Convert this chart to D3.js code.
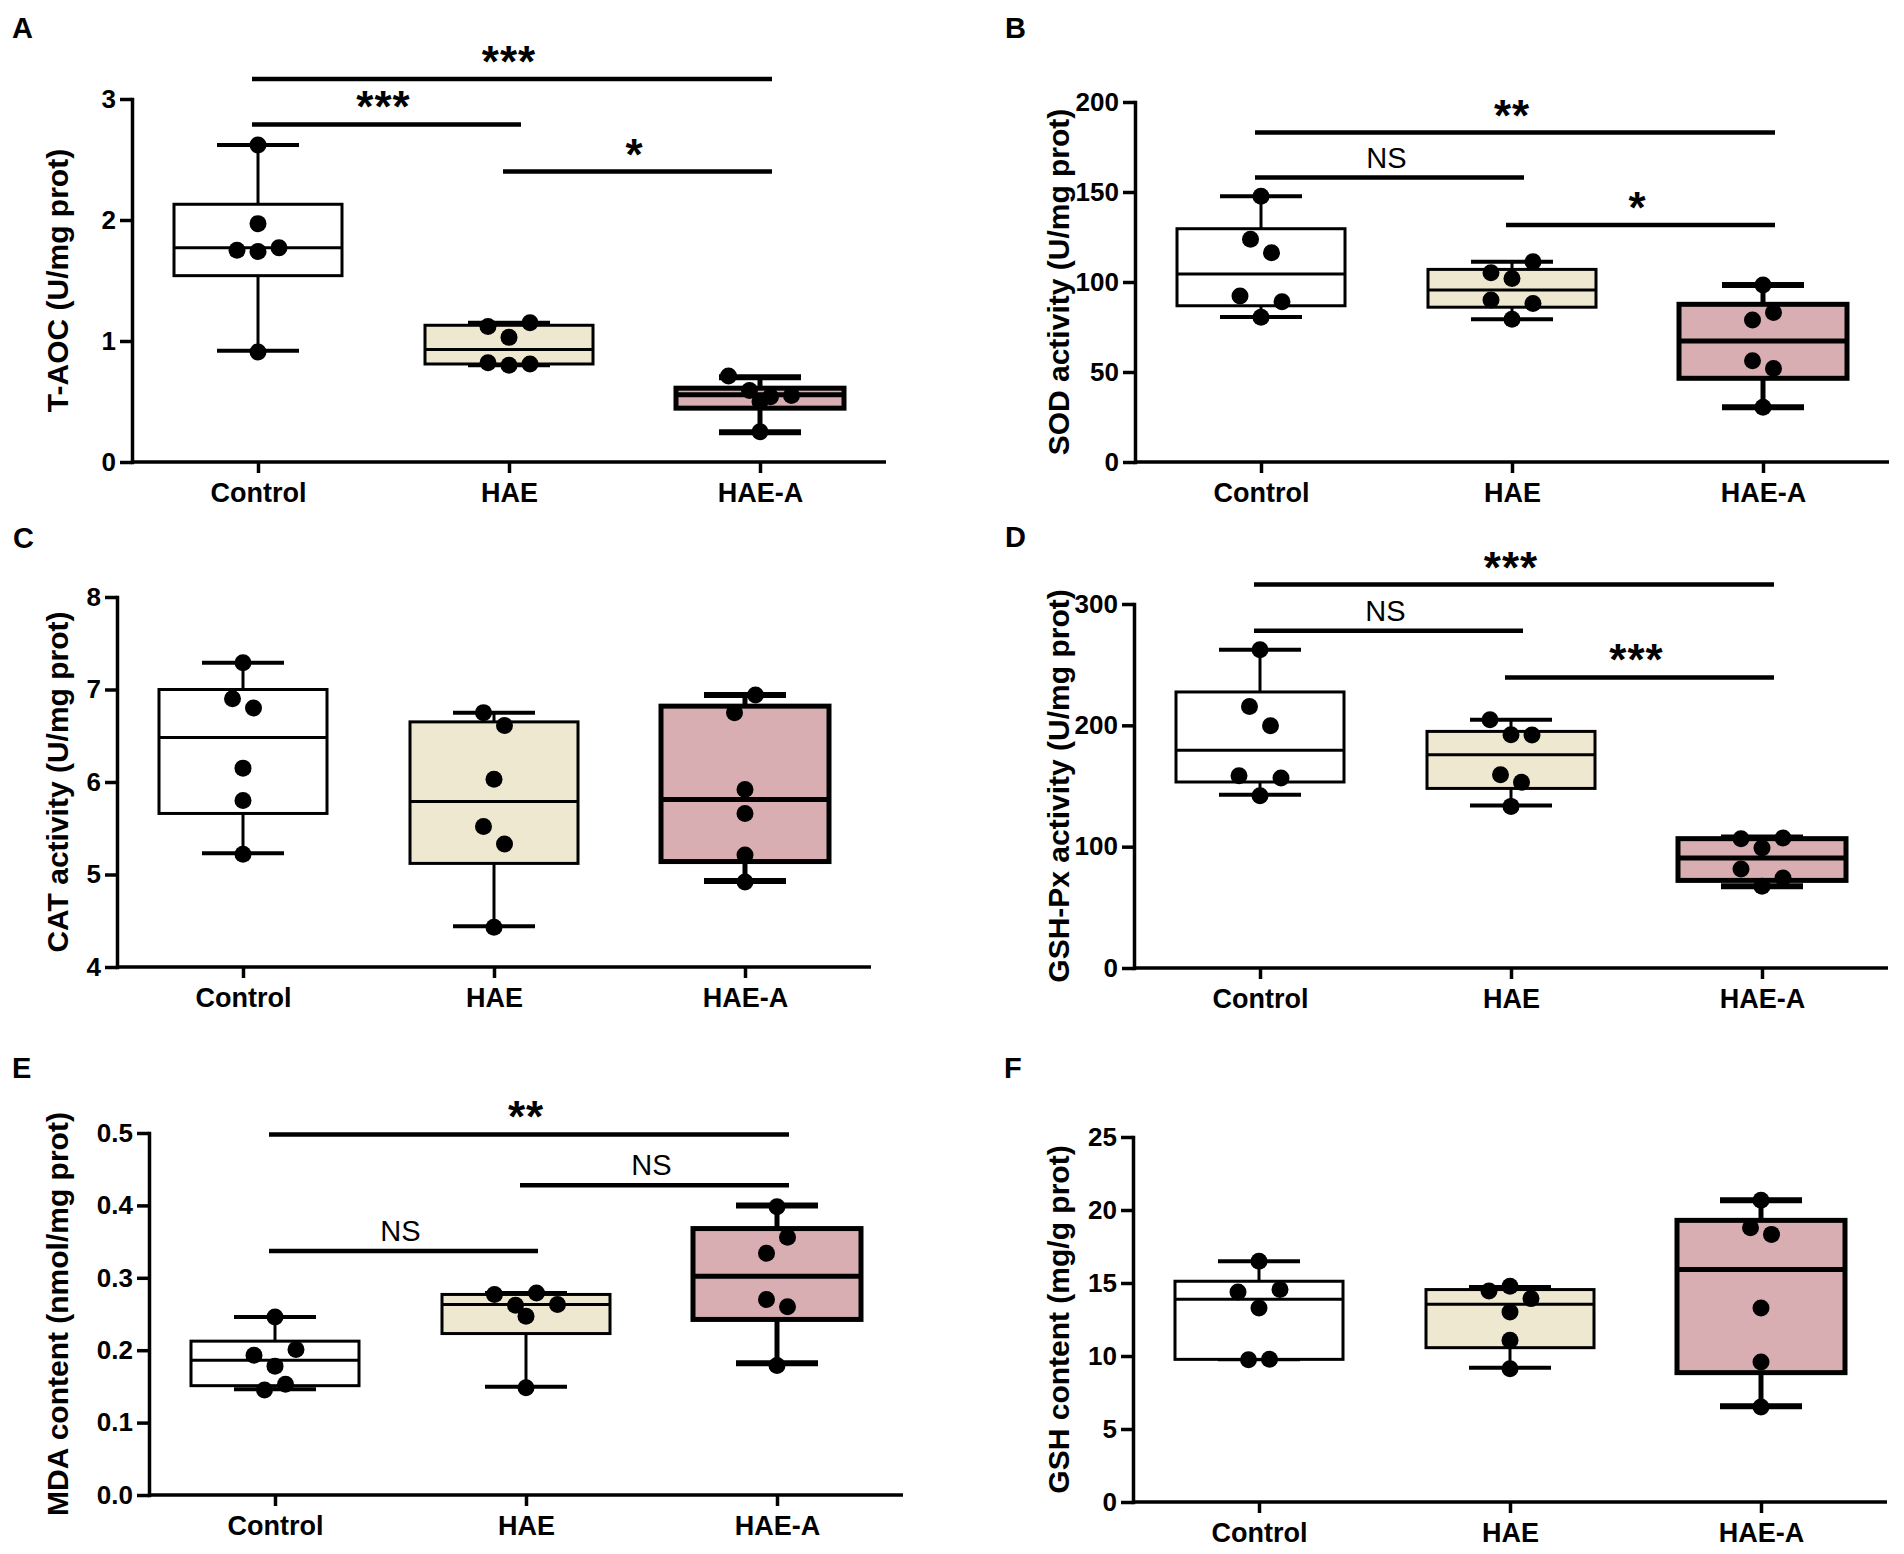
<!DOCTYPE html>
<html>
<head>
<meta charset="utf-8">
<script src="https://cdn.jsdelivr.net/npm/d3@7"></script>
<style>
body { margin: 0; background: #fff; }
svg text { font-family: "Liberation Sans", Arial, sans-serif; font-weight: bold; fill: #000; }
</style>
</head>
<body>
<svg id="fig" width="1904" height="1554"></svg>
<script>
var groups = ["Control", "HAE", "HAE-A"];
var fills = ["#ffffff", "#efe8d0", "#d9aeb2"];

// A: T-AOC
var taocPoints = [[2.62, 1.97, 1.75, 1.74, 1.77, 0.91], [1.12, 1.03, 1.15, 0.82, 0.80, 0.81], [0.71, 0.59, 0.54, 0.50, 0.55, 0.25]];
var taocBoxes = [[0.92, 1.54, 1.77, 2.13, 2.62], [0.80, 0.81, 0.93, 1.13, 1.15], [0.245, 0.445, 0.555, 0.61, 0.70]];
var taocTicks = [0, 1, 2, 3];
var taocSig = [[0, 2, 3.165, "***"], [0, 1, 2.79, "***"], [1, 2, 2.40, "*"]];

// B: SOD
var sodPoints = [[147.6, 123.7, 116.3, 92.2, 80.4, 89.0], [105.2, 102.0, 111.3, 90.0, 79.3, 88.0], [98.3, 78.9, 83.1, 56.3, 52.0, 30.4]];
var sodBoxes = [[80.6, 86.8, 104.4, 129.6, 147.6], [79.3, 86.0, 95.6, 107.0, 111.3], [30.4, 46.5, 67.2, 87.6, 98.3]];
var sodTicks = [0, 50, 100, 150, 200];
var sodSig = [[0, 2, 183, "**"], [0, 1, 158, "NS"], [1, 2, 131.7, "*"]];

// C: CAT
var catPoints = [[7.29, 6.90, 6.80, 6.15, 5.80, 5.22], [6.75, 6.61, 6.03, 5.52, 5.33, 4.43], [6.75, 6.94, 5.92, 5.66, 5.21, 4.92]];
var catBoxes = [[5.23, 5.66, 6.48, 7.00, 7.29], [4.44, 5.12, 5.79, 6.65, 6.75], [4.93, 5.14, 5.81, 6.82, 6.94]];
var catTicks = [4, 5, 6, 7, 8];
var catSig = [];

// D: GSH-Px
var gpxPoints = [[262.3, 215.6, 199.7, 158.5, 142.0, 156.6], [204.6, 192.3, 192.0, 159.3, 153.0, 133.2], [106.6, 98.9, 107.2, 81.6, 67.3, 74.2]];
var gpxBoxes = [[142.8, 153.3, 179.4, 227.5, 262.3], [134.0, 148.0, 175.8, 195.0, 204.6], [67.3, 72.2, 90.6, 106.6, 107.5]];
var gpxTicks = [0, 100, 200, 300];
var gpxSig = [[0, 2, 316, "***"], [0, 1, 278, "NS"], [1, 2, 239.5, "***"]];

// E: MDA
var mdaPoints = [[0.246, 0.193, 0.178, 0.201, 0.145, 0.153], [0.277, 0.262, 0.279, 0.263, 0.247, 0.148], [0.398, 0.334, 0.356, 0.270, 0.260, 0.179]];
var mdaBoxes = [[0.146, 0.151, 0.186, 0.2125, 0.246], [0.1495, 0.223, 0.263, 0.277, 0.279], [0.182, 0.2425, 0.302, 0.368, 0.400]];
var mdaTicks = [0, 0.1, 0.2, 0.3, 0.4, 0.5];
var mdaSig = [[0, 2, 0.498, "**"], [0, 1, 0.337, "NS"], [1, 2, 0.428, "NS"]];

// F: GSH
var gshPoints = [[16.49, 14.38, 13.29, 14.55, 9.75, 9.78], [14.45, 14.77, 13.93, 13.02, 11.08, 9.13], [20.66, 18.79, 18.33, 13.29, 9.59, 6.50]];
var gshBoxes = [[9.77, 9.77, 13.88, 15.12, 16.49], [9.2, 10.57, 13.54, 14.55, 14.73], [6.55, 8.86, 15.92, 19.29, 20.66]];
var gshTicks = [0, 5, 10, 15, 20, 25];
var gshSig = [];

var panels = [
    { letter: "A", title: "T-AOC (U/mg prot)", points: taocPoints, boxes: taocBoxes, ticks: taocTicks, sig: taocSig, fmt: d3.format("d"),
      left: 132, top: 99, bottom: 462, lx: 12, ly: 38, tx: 57 },
    { letter: "B", title: "SOD activity (U/mg prot)", points: sodPoints, boxes: sodBoxes, ticks: sodTicks, sig: sodSig, fmt: d3.format("d"),
      left: 1135, top: 102, bottom: 462, lx: 1005, ly: 38, tx: 1058 },
    { letter: "C", title: "CAT activity (U/mg prot)", points: catPoints, boxes: catBoxes, ticks: catTicks, sig: catSig, fmt: d3.format("d"),
      left: 117, top: 597, bottom: 967, lx: 13, ly: 548, tx: 57 },
    { letter: "D", title: "GSH-Px activity (U/mg prot)", points: gpxPoints, boxes: gpxBoxes, ticks: gpxTicks, sig: gpxSig, fmt: d3.format("d"),
      left: 1134, top: 604, bottom: 968, lx: 1005, ly: 547, tx: 1058 },
    { letter: "E", title: "MDA content (nmol/mg prot)", points: mdaPoints, boxes: mdaBoxes, ticks: mdaTicks, sig: mdaSig, fmt: d3.format(".1f"),
      left: 149, top: 1133, bottom: 1495, lx: 12, ly: 1078, tx: 57 },
    { letter: "F", title: "GSH content (mg/g prot)", points: gshPoints, boxes: gshBoxes, ticks: gshTicks, sig: gshSig, fmt: d3.format("d"),
      left: 1133, top: 1137, bottom: 1502, lx: 1004, ly: 1078, tx: 1058 }
];

var svg = d3.select("svg#fig");
var dotR = 8.5,
    boxHalf = 84,
    capHalf = 41,
    step = 21,
    rowGap = 22;

// GraphPad-like scatter: points close in y share a row, spread symmetrically
function swarm(vals, y) {
    var order = d3.range(vals.length).sort(function(a, b) { return vals[b] - vals[a]; });
    var off = new Array(vals.length).fill(0);
    var i = 0;
    while (i < order.length) {
        var row = [order[i]], j = i + 1;
        while (j < order.length && Math.abs(y(vals[order[j]]) - y(vals[order[i]])) < rowGap) {
            row.push(order[j]);
            j++;
        }
        row.sort(function(a, b) { return a - b; });
        row.forEach(function(idx, k) { off[idx] = (k - (row.length - 1) / 2) * step; });
        i = j;
    }
    return off;
}

panels.forEach(function(p) {
    var g = svg.append("g");
    var y = d3.scaleLinear()
        .domain([p.ticks[0], p.ticks[p.ticks.length - 1]])
        .range([p.bottom, p.top]);
    var x = d3.scalePoint()
        .domain(groups)
        .range([p.left + 126, p.left + 628]);
    var right = p.left + 754;

    g.append("text")
        .attr("x", p.lx)
        .attr("y", p.ly)
        .style("font-size", "29px")
        .text(p.letter);

    g.append("text")
        .attr("transform", "translate(" + p.tx + "," + ((p.top + p.bottom) / 2) + ") rotate(-90)")
        .attr("text-anchor", "middle")
        .attr("dy", "0.35em")
        .style("font-size", "30px")
        .text(p.title);

    // y axis
    var ya = g.append("g")
        .attr("transform", "translate(" + p.left + ",0)")
        .call(d3.axisLeft(y).tickValues(p.ticks).tickFormat(p.fmt).tickSize(12).tickSizeOuter(0).tickPadding(4));
    ya.select(".domain").attr("stroke-width", 3.5).attr("stroke-linecap", "square");
    ya.selectAll(".tick line").attr("stroke-width", 3.5);
    ya.selectAll(".tick text").style("font-size", "26px").style("font-family", "Liberation Sans, Arial, sans-serif");

    // x axis
    g.append("line")
        .attr("x1", p.left).attr("x2", right)
        .attr("y1", p.bottom).attr("y2", p.bottom)
        .attr("stroke", "#000").attr("stroke-width", 3.5);
    var xa = g.append("g")
        .attr("transform", "translate(0," + p.bottom + ")")
        .call(d3.axisBottom(x).tickSize(11).tickPadding(10));
    xa.select(".domain").remove();
    xa.selectAll(".tick line").attr("stroke-width", 3.5);
    xa.selectAll(".tick text").style("font-size", "27px").style("font-family", "Liberation Sans, Arial, sans-serif");

    // boxes
    p.boxes.forEach(function(b, i) {
        var cx = x(groups[i]);
        var sw = i === 2 ? 5 : 3;
        var bg = g.append("g").attr("stroke", "#000");
        bg.append("line")
            .attr("x1", cx).attr("x2", cx)
            .attr("y1", y(b[4])).attr("y2", y(b[3]))
            .attr("stroke-width", sw);
        bg.append("line")
            .attr("x1", cx).attr("x2", cx)
            .attr("y1", y(b[1])).attr("y2", y(b[0]))
            .attr("stroke-width", sw);
        [b[0], b[4]].forEach(function(v) {
            bg.append("line")
                .attr("x1", cx - capHalf).attr("x2", cx + capHalf)
                .attr("y1", y(v)).attr("y2", y(v))
                .attr("stroke-width", sw + 1);
        });
        bg.append("rect")
            .attr("x", cx - boxHalf)
            .attr("y", y(b[3]))
            .attr("width", boxHalf * 2)
            .attr("height", y(b[1]) - y(b[3]))
            .attr("fill", fills[i])
            .attr("stroke-width", sw);
        bg.append("line")
            .attr("x1", cx - boxHalf).attr("x2", cx + boxHalf)
            .attr("y1", y(b[2])).attr("y2", y(b[2]))
            .attr("stroke-width", sw);
    });

    // points
    p.points.forEach(function(vals, i) {
        var off = swarm(vals, y);
        g.append("g").selectAll("circle")
            .data(vals)
            .enter().append("circle")
            .attr("cx", function(d, k) { return x(groups[i]) + off[k]; })
            .attr("cy", function(d) { return y(d); })
            .attr("r", dotR)
            .attr("fill", "#000");
    });

    // significance bars
    p.sig.forEach(function(s) {
        var x1 = x(groups[s[0]]), x2 = x(groups[s[1]]);
        g.append("line")
            .attr("x1", x1 - 6).attr("x2", x2 + 12)
            .attr("y1", y(s[2])).attr("y2", y(s[2]))
            .attr("stroke", "#000").attr("stroke-width", 4.5);
        var star = s[3].indexOf("*") >= 0;
        g.append("text")
            .attr("x", (x1 + x2) / 2)
            .attr("y", y(s[2]) - (star ? 2 : 10))
            .attr("text-anchor", "middle")
            .style("font-weight", star ? "bold" : "normal")
            .style("font-size", star ? "44px" : "29px")
            .style("letter-spacing", star ? "1px" : "0px")
            .text(s[3]);
    });
});
</script>
</body>
</html>
